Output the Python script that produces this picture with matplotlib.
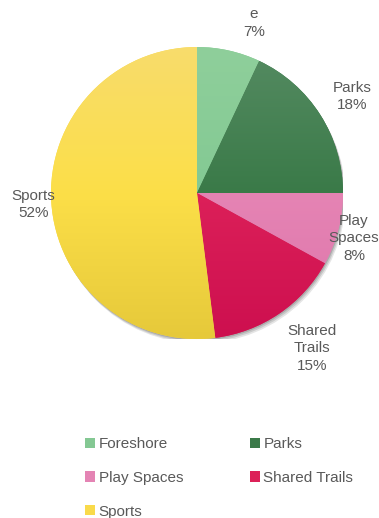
import numpy as np
import matplotlib
matplotlib.use("Agg")
import matplotlib.pyplot as plt
from matplotlib.patches import Patch, Circle
from matplotlib.colors import LinearSegmentedColormap

plt.rcParams['font.family'] = ['Liberation Sans', 'DejaVu Sans']

categories = ["Foreshore", "Parks", "Play Spaces", "Shared Trails", "Sports"]
values = [7, 18, 8, 15, 52]
slice_labels = ["e\n7%", "Parks\n18%", "Play\nSpaces\n8%", "Shared\nTrails\n15%", "Sports\n52%"]
top_colors = ["#8fcf9b", "#558b62", "#e78fbb", "#e2456e", "#f8dc6c"]
mid_colors = ["#83c993", "#3a7a48", "#e584b4", "#dc2059", "#fcdf48"]
bot_colors = ["#76c287", "#2f6c3d", "#de74aa", "#cd0f4f", "#e6c93a"]
base_colors = ["#84c893", "#3b7a49", "#e484b4", "#dc2158", "#f9da4a"]
label_pos = [(0.39, 1.165), (1.06, 0.66), (1.075, -0.31), (0.79, -1.065), (-1.12, -0.08)]

W, H = 379, 518
fig = plt.figure(figsize=(W / 100, H / 100), dpi=100)
cx, cy, r = 197, 193, 146
ax = fig.add_axes([(cx - r) / W, 1 - (cy + r) / H, 2 * r / W, 2 * r / H])
ax.set_xlim(-1, 1)
ax.set_ylim(-1, 1)
ax.set_aspect('equal')
ax.axis('off')

# shadow
for d, a in [(0.03, 0.10), (0.02, 0.12), (0.01, 0.15)]:
    ax.add_patch(Circle((d * 0.6, -d), 1.0, color='#000000', alpha=a, lw=0, zorder=0))

wedges, _ = ax.pie(values, colors=base_colors, startangle=90, counterclock=False,
                   radius=1.0, wedgeprops=dict(linewidth=0), frame=False)

grad = np.linspace(0, 1, 256).reshape(-1, 1)
for w, c0, c1, c2 in zip(wedges, top_colors, mid_colors, bot_colors):
    cmap = LinearSegmentedColormap.from_list("g", [c0, c1, c2])
    im = ax.imshow(grad, cmap=cmap, extent=[-1, 1, -1, 1], aspect='auto', zorder=2,
                   interpolation='bilinear', origin='upper')
    im.set_clip_path(w)
ax.set_xlim(-1, 1)
ax.set_ylim(-1, 1)

for (x, y), t in zip(label_pos, slice_labels):
    ax.text(x, y, t, ha='center', va='center', fontsize=11, color='#595959',
            linespacing=1.3, zorder=5)

handles = [Patch(facecolor=c, edgecolor='none') for c in base_colors]
order = [0, 2, 4, 1, 3]
leg = fig.legend([handles[i] for i in order], [categories[i] for i in order],
                 ncol=2, frameon=False, loc='upper left',
                 bbox_to_anchor=(85 / W, 1 - 437 / H), fontsize=11,
                 handlelength=0.65, handleheight=0.65, handletextpad=0.25,
                 labelspacing=1.3, columnspacing=4.35, borderaxespad=0, borderpad=0)
for t in leg.get_texts():
    t.set_color('#595959')

fig.savefig("out.png", dpi=100)
